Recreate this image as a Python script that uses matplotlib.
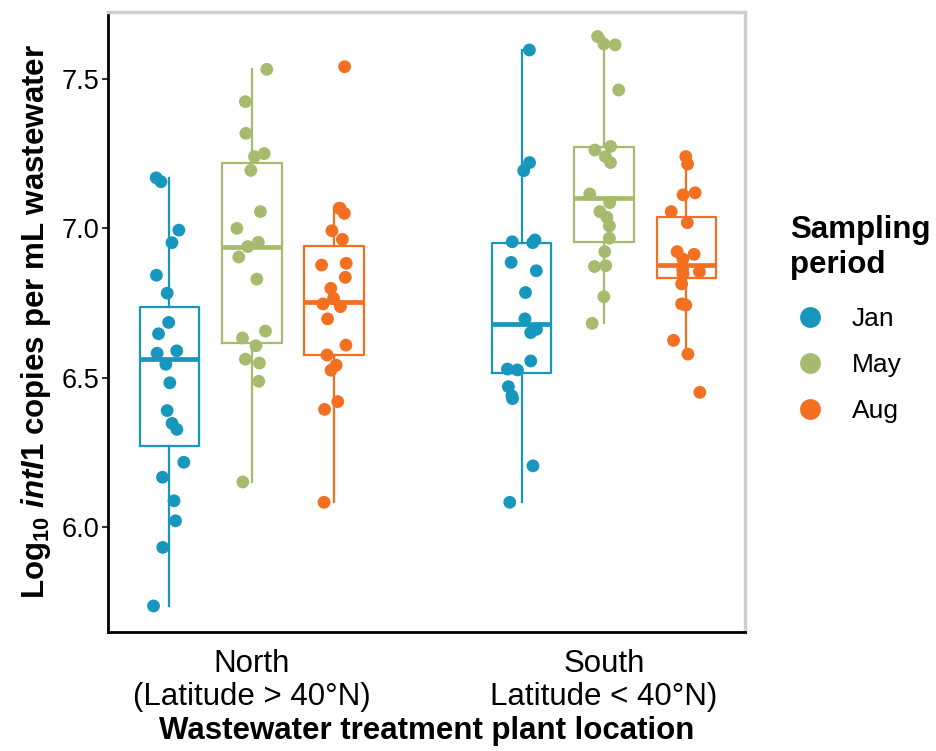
import numpy as np
import matplotlib.pyplot as plt
from matplotlib.lines import Line2D

plt.rcParams['font.family'] = ['Liberation Sans', 'DejaVu Sans']
plt.rcParams['mathtext.fontset'] = 'custom'
plt.rcParams['mathtext.rm'] = 'Liberation Sans:bold'
plt.rcParams['mathtext.it'] = 'Liberation Sans:bold:italic'
plt.rcParams['mathtext.bf'] = 'Liberation Sans:bold'

# %% data
locations = ['North\n(Latitude > 40°N)', 'South\nLatitude < 40°N)']
periods = ['Jan', 'May', 'Aug']
colors = ['#1797BD', '#A7BB6E', '#F37021']

north_jan = [7.169, 7.156, 6.994, 6.952, 6.843, 6.783, 6.685, 6.647, 6.590, 6.582,
             6.545, 6.483, 6.390, 6.347, 6.327, 6.217, 6.167, 6.088, 6.021, 5.932, 5.736]
north_may = [7.532, 7.424, 7.318, 7.250, 7.240, 7.194, 7.056, 7.000, 6.953, 6.939,
             6.904, 6.830, 6.656, 6.633, 6.607, 6.562, 6.549, 6.488, 6.151]
north_aug = [7.541, 7.067, 7.067, 7.050, 6.992, 6.963, 6.883, 6.877, 6.836, 6.799,
             6.766, 6.747, 6.738, 6.697, 6.609, 6.576, 6.542, 6.525, 6.420, 6.394, 6.083]
south_jan = [7.597, 7.220, 7.193, 6.961, 6.955, 6.952, 6.886, 6.858, 6.785, 6.697,
             6.662, 6.651, 6.556, 6.529, 6.526, 6.470, 6.439, 6.430, 6.205, 6.083]
south_may = [7.642, 7.617, 7.614, 7.463, 7.274, 7.262, 7.240, 7.220, 7.115, 7.086,
             7.056, 7.037, 7.008, 6.967, 6.922, 6.875, 6.872, 6.771, 6.682]
south_aug = [7.240, 7.215, 7.119, 7.112, 7.056, 7.019, 6.922, 6.913, 6.897, 6.861,
             6.855, 6.847, 6.814, 6.747, 6.743, 6.625, 6.579, 6.451]

points = [north_jan, north_may, north_aug, south_jan, south_may, south_aug]

# box summary, same order as points
q1 = [6.271, 6.617, 6.576, 6.515, 6.955, 6.833]
med = [6.563, 6.939, 6.754, 6.680, 7.103, 6.877]
q3 = [6.736, 7.218, 6.942, 6.952, 7.271, 7.039]
whis_lo = [5.736, 6.151, 6.083, 6.083, 6.682, 6.579]
whis_hi = [7.169, 7.532, 7.067, 7.597, 7.642, 7.235]

# %% plot
fig = plt.figure(figsize=(9.37, 7.51), dpi=100)
ax = fig.add_axes([0.1153, 0.1585, 0.6797, 0.8255])

dodge = 0.234
box_w = 0.169
rng = np.random.default_rng(3)

for i, vals in enumerate(points):
    gi, pi = divmod(i, 3)
    pos = gi + 1 + (pi - 1) * dodge
    c = colors[pi]
    stats = [dict(q1=q1[i], med=med[i], q3=q3[i],
                  whislo=whis_lo[i], whishi=whis_hi[i], fliers=[])]
    ax.bxp(stats, positions=[pos], widths=box_w, showfliers=False,
           boxprops=dict(color=c, linewidth=1.6),
           whiskerprops=dict(color=c, linewidth=1.6),
           capprops=dict(linewidth=0),
           medianprops=dict(color=c, linewidth=3.4, solid_capstyle='butt'))
    jit = rng.uniform(-0.045, 0.045, len(vals))
    ax.scatter(pos + jit, vals, s=85, color=c, edgecolors='none', zorder=3)

ax.set_xlim(0.592, 2.4)
ax.set_ylim(5.649, 7.724)
ax.set_xticks([1, 2])
ax.set_xticklabels(locations, fontsize=22.5, linespacing=1.1)
ax.set_yticks([6.0, 6.5, 7.0, 7.5])
ax.set_yticklabels(['6.0', '6.5', '7.0', '7.5'], fontsize=19.5)
ax.tick_params(axis='x', length=0, pad=12.5, colors='black')
ax.tick_params(axis='y', length=4.5, width=1.5, color='#333333', labelcolor='black', pad=2)

for s in ['left', 'bottom']:
    ax.spines[s].set_color('black')
    ax.spines[s].set_linewidth(2)
for s in ['top', 'right']:
    ax.spines[s].set_color('#cfcfcf')
    ax.spines[s].set_linewidth(2.5)

ax.set_xlabel('Wastewater treatment plant location', fontsize=22.5,
              fontweight='bold', labelpad=3)
ax.set_ylabel(r'$\mathrm{Log}_{10}$ $\mathit{intI1}$ copies per mL wastewater',
              fontsize=22.5, fontweight='bold', labelpad=6)

handles = [Line2D([], [], marker='o', linestyle='none', markersize=15,
                  markerfacecolor=c, markeredgecolor='none') for c in colors]
leg = fig.legend(handles, periods, title='Sampling\nperiod', loc='upper left',
                 bbox_to_anchor=(790 / 937, 1 - 215 / 751), frameon=False, fontsize=19,
                 title_fontproperties={'weight': 'bold', 'size': 22.5},
                 labelspacing=0.83, handlelength=1.55, handletextpad=0.8,
                 borderpad=0, borderaxespad=0)
leg._legend_box.align = 'left'
leg._legend_box.sep = 20

fig.savefig('out.png', dpi=100)
